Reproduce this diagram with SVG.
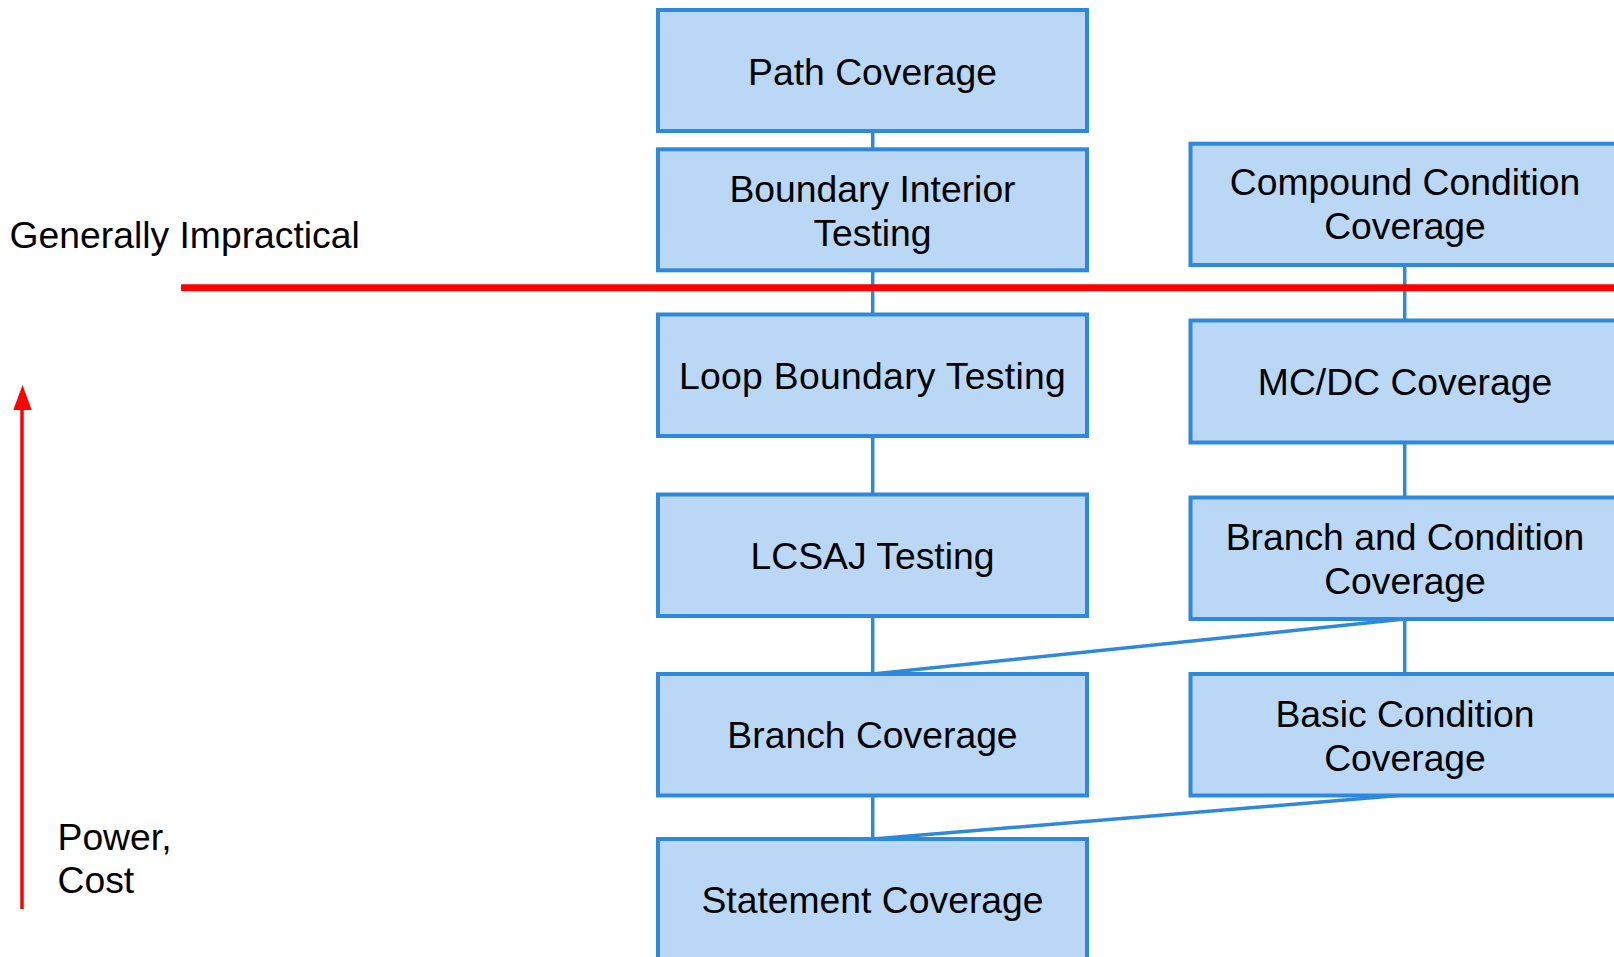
<svg xmlns="http://www.w3.org/2000/svg" width="1614" height="957" viewBox="0 0 1614 957">
<style>
  .box { fill: #bad7f5; stroke: #2c89dc; stroke-width: 4; }
  .conn { stroke: #2c89dc; stroke-width: 3.5; fill: none; }
  text { font-family: "Liberation Sans", Arial, sans-serif; font-size: 37.3px; fill: #000; }
  .c { text-anchor: middle; }
</style>
<rect width="1614" height="957" fill="#ffffff"/>
<g id="connectors">
  <line class="conn" x1="872.7" y1="131" x2="872.7" y2="839"/>
  <line class="conn" x1="1404.7" y1="265" x2="1404.7" y2="674"/>
  <line class="conn" x1="1404.7" y1="619" x2="872.7" y2="674"/>
  <line class="conn" x1="1404.7" y1="795" x2="872.7" y2="839"/>
</g>
<g id="path-coverage">
  <rect class="box" x="658" y="10" width="429" height="121"/>
  <text class="c" x="872.5" y="85">Path Coverage</text>
</g>
<g id="boundary-interior">
  <rect class="box" x="658" y="149.3" width="429" height="121"/>
  <text class="c" x="872.5" y="201.7">Boundary Interior</text>
  <text class="c" x="872.5" y="246">Testing</text>
</g>
<g id="loop-boundary">
  <rect class="box" x="658" y="314.5" width="429" height="121.5"/>
  <text class="c" x="872.5" y="389" letter-spacing="0.3">Loop Boundary Testing</text>
</g>
<g id="lcsaj">
  <rect class="box" x="658" y="494.5" width="429" height="121.5"/>
  <text class="c" x="872.5" y="568.5">LCSAJ Testing</text>
</g>
<g id="branch-coverage">
  <rect class="box" x="658" y="674" width="429" height="121.5"/>
  <text class="c" x="872.5" y="748">Branch Coverage</text>
</g>
<g id="statement-coverage">
  <rect class="box" x="658" y="839" width="429" height="122"/>
  <text class="c" x="872.5" y="913">Statement Coverage</text>
</g>
<g id="compound-condition">
  <rect class="box" x="1190.5" y="143.7" width="429" height="121.3"/>
  <text class="c" x="1405" y="195">Compound Condition</text>
  <text class="c" x="1405" y="239.3">Coverage</text>
</g>
<g id="mcdc">
  <rect class="box" x="1190.5" y="320.5" width="429" height="122"/>
  <text class="c" x="1405" y="395">MC/DC Coverage</text>
</g>
<g id="branch-condition">
  <rect class="box" x="1190.5" y="497.5" width="429" height="121.5"/>
  <text class="c" x="1405" y="550">Branch and Condition</text>
  <text class="c" x="1405" y="594">Coverage</text>
</g>
<g id="basic-condition">
  <rect class="box" x="1190.5" y="674" width="429" height="121.5"/>
  <text class="c" x="1405" y="726.5">Basic Condition</text>
  <text class="c" x="1405" y="770.5">Coverage</text>
</g>
<g id="impractical-line">
  <line x1="181" y1="287.7" x2="1614" y2="287.7" stroke="#ff0000" stroke-width="7"/>
  <text x="9.5" y="248">Generally Impractical</text>
</g>
<g id="power-cost-arrow">
  <line x1="22" y1="909" x2="22" y2="405" stroke="#ff0000" stroke-width="3.5"/>
  <polygon points="22.5,385 13.3,410 31.7,410" fill="#ff0000"/>
  <text x="57.5" y="850">Power,</text>
  <text x="57.5" y="893.3">Cost</text>
</g>
</svg>
